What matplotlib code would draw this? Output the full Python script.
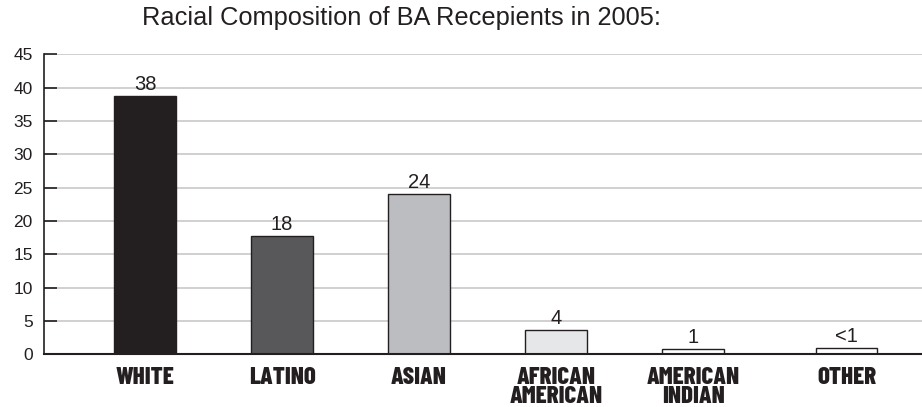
import matplotlib
matplotlib.use("Agg")
import matplotlib.pyplot as plt

categories = ["WHITE", "LATINO", "ASIAN", "AFRICAN\nAMERICAN", "AMERICAN\nINDIAN", "OTHER"]
values = [38.8, 17.7, 24.0, 3.7, 0.85, 0.95]
value_labels = ["38", "18", "24", "4", "1", "<1"]
yticks = [0, 5, 10, 15, 20, 25, 30, 35, 40, 45]

bar_colors = ["#231f20", "#58585a", "#bcbdc0", "#e6e7e8", "#ffffff", "#ffffff"]
xpos = [0, 1, 2, 3, 4, 5.12]

plt.rcParams["font.family"] = ["Liberation Sans", "DejaVu Sans"]

fig = plt.figure(figsize=(9.22, 4.07), dpi=100)
ax = fig.add_axes([0.0477, 0.1295, 0.9523, 0.7371])

ax.set_axisbelow(True)
ax.yaxis.grid(True, color="#c8c8c8", linewidth=1.2)
ax.bar(xpos, values, width=0.45, color=bar_colors, edgecolor="#231f20", linewidth=1.0)

for x, v, t in zip(xpos, values, value_labels):
    ax.text(x, v + 0.3, t, ha="center", va="bottom", fontsize=14.5, color="#231f20")

ax.set_ylim(0, 45)
ax.set_xlim(-0.737, 5.67)
ax.set_yticks(yticks)
ax.tick_params(axis="y", direction="in", length=9, width=1.2, labelsize=12.5,
               colors="#231f20", pad=8)
ax.set_xticks(xpos)
ax.set_xticklabels(categories, fontfamily=["Barlow Condensed", "DejaVu Sans"],
                   fontweight=800, fontsize=18, linespacing=0.85, va="top")
ax.tick_params(axis="x", length=0, pad=9, colors="#231f20")

for s in ["top", "right"]:
    ax.spines[s].set_visible(False)
ax.spines["left"].set_color("#231f20")
ax.spines["left"].set_linewidth(1.2)
ax.spines["bottom"].set_color("#231f20")
ax.spines["bottom"].set_linewidth(1.5)

fig.text(0.4355, 0.956, "Racial Composition of BA Recepients in 2005:", ha="center",
         va="center", fontsize=18.3, color="#231f20")

fig.savefig("out.png", dpi=100)
